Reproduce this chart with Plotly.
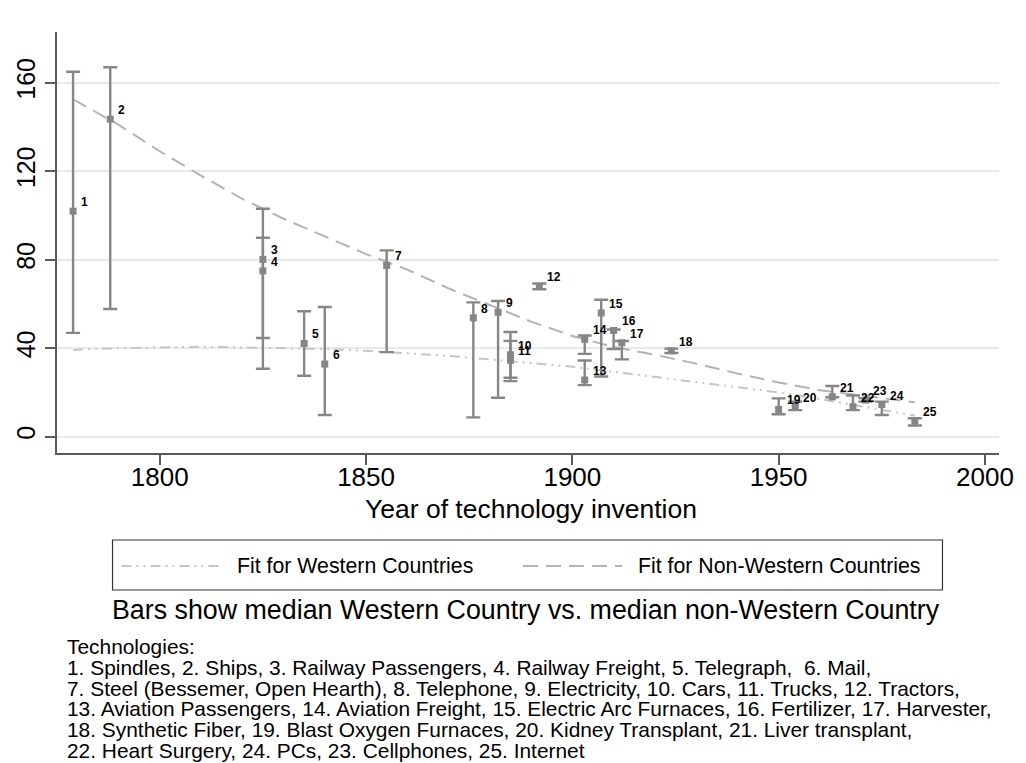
import plotly.graph_objects as go

# ---- data ----
tech_ids = [str(i) for i in range(1, 26)]
years = [1779, 1788, 1825, 1825, 1835, 1840, 1855, 1876, 1882, 1885, 1885, 1892,
         1903, 1903, 1907, 1910, 1912, 1924, 1950, 1954, 1963, 1968, 1971, 1975, 1983]
median_val = [101.9, 143.5, 80.1, 74.9, 42.1, 32.8, 77.4, 53.7, 56.2, 37.0, 34.5, 67.9,
              25.6, 44.0, 55.9, 48.0, 42.4, 38.8, 12.3, 13.5, 18.0, 13.5, 16.5, 14.5, 7.1]
bar_low = [46.9, 57.7, 44.6, 30.7, 27.5, 9.8, 38.2, 8.7, 17.6, 26.6, 25.1, 66.6,
           23.3, 37.4, 27.2, 39.6, 34.9, 37.8, 10.1, 12.0, 17.8, 12.0, 15.8, 9.8, 5.0]
bar_high = [164.9, 167.0, 103.0, 89.9, 56.7, 58.6, 84.2, 60.7, 61.3, 47.3, 43.3, 69.2,
            34.4, 45.7, 61.9, 48.4, 43.2, 39.8, 17.3, 15.8, 22.9, 18.6, 17.4, 15.8, 8.3]

fit_years = [1779, 1790, 1800, 1810, 1820, 1830, 1840, 1850, 1860, 1870, 1880,
             1890, 1900, 1910, 1920, 1930, 1940, 1950, 1960, 1970, 1983]
fit_western = [39.2, 40.0, 40.3, 40.6, 40.3, 40.0, 39.6, 38.8, 37.8, 36.5, 34.9,
               33.3, 31.6, 29.3, 27.0, 24.5, 22.2, 20.0, 17.0, 13.8, 9.5]
fit_nonwestern = [152.5, 141.0, 129.0, 118.0, 107.5, 98.5, 90.5, 82.5, 75.5, 67.0, 59.5,
                  52.0, 45.5, 40.5, 37.0, 33.0, 28.5, 24.5, 21.0, 18.5, 15.5]

y_ticks = [0, 40, 80, 120, 160]
x_ticks = [1800, 1850, 1900, 1950, 2000]

x_title = "Year of technology invention"
legend_labels = ["Fit for Western Countries", "Fit for Non-Western Countries"]
caption = "Bars show median Western Country vs. median non-Western Country"
note_lines = [
    "Technologies:",
    "1. Spindles, 2. Ships, 3. Railway Passengers, 4. Railway Freight, 5. Telegraph,  6. Mail,",
    "7. Steel (Bessemer, Open Hearth), 8. Telephone, 9. Electricity, 10. Cars, 11. Trucks, 12. Tractors,",
    "13. Aviation Passengers, 14. Aviation Freight, 15. Electric Arc Furnaces, 16. Fertilizer, 17. Harvester,",
    "18. Synthetic Fiber, 19. Blast Oxygen Furnaces, 20. Kidney Transplant, 21. Liver transplant,",
    "22. Heart Surgery, 24. PCs, 23. Cellphones, 25. Internet",
]

# ---- styling ----
FONT = "Liberation Sans, Arial, Helvetica, sans-serif"
BAR_COL = "#868686"
WEST_COL = "#c6c6c6"
NONWEST_COL = "#b3b3b3"
WEST_DASH = "10px,5px,2px,5px,2px,5px"
NONWEST_DASH = "15px,8px"
AXIS_COL = "#5a5a5a"

W, H = 1026, 763
L, R, T, B = 57, 19, 32, 310
pw, ph = W - L - R, H - T - B


def px(xp):
    return (xp - L) / pw


def py(yp):
    return (H - B - yp) / ph


fig = go.Figure()

fig.add_trace(go.Scatter(x=fit_years, y=fit_nonwestern, mode="lines",
                         line=dict(color=NONWEST_COL, width=2, dash=NONWEST_DASH),
                         name=legend_labels[1], showlegend=False, hoverinfo="skip"))
fig.add_trace(go.Scatter(x=fit_years, y=fit_western, mode="lines",
                         line=dict(color=WEST_COL, width=2, dash=WEST_DASH),
                         name=legend_labels[0], showlegend=False, hoverinfo="skip"))

err_plus = [h - m for h, m in zip(bar_high, median_val)]
err_minus = [m - l for m, l in zip(median_val, bar_low)]
fig.add_trace(go.Scatter(
    x=years, y=median_val, mode="markers",
    marker=dict(symbol="square", size=7, color=BAR_COL),
    error_y=dict(type="data", symmetric=False, array=err_plus, arrayminus=err_minus,
                 color=BAR_COL, thickness=2.4, width=7),
    showlegend=False, name="Technologies"))

annotations = []
for t, x, y in zip(tech_ids, years, median_val):
    annotations.append(dict(x=x, y=y, xref="x", yref="y", text=t, showarrow=False,
                            xanchor="left", yanchor="middle", xshift=6, yshift=9,
                            font=dict(family=FONT, size=12, color="black", weight="bold")))

# x-axis title
annotations.append(dict(x=px(535), y=py(509), xref="paper", yref="paper", text=x_title,
                        showarrow=False, xanchor="center", yanchor="middle",
                        font=dict(family=FONT, size=26.5, color="black")))

# manual legend
shapes = [
    dict(type="rect", xref="paper", yref="paper", x0=px(113), x1=px(950), y0=py(590), y1=py(540),
         line=dict(color="#333333", width=1.2), fillcolor="white", layer="above"),
    dict(type="line", xref="paper", yref="paper", x0=px(122), x1=px(222), y0=py(566), y1=py(566),
         line=dict(color=WEST_COL, width=2, dash=WEST_DASH)),
    dict(type="line", xref="paper", yref="paper", x0=px(527), x1=px(627), y0=py(566), y1=py(566),
         line=dict(color=NONWEST_COL, width=2, dash=NONWEST_DASH)),
]
annotations.append(dict(x=px(237), y=py(566), xref="paper", yref="paper", text=legend_labels[0],
                        showarrow=False, xanchor="left", yanchor="middle",
                        font=dict(family=FONT, size=21.3, color="black")))
annotations.append(dict(x=px(641), y=py(566), xref="paper", yref="paper", text=legend_labels[1],
                        showarrow=False, xanchor="left", yanchor="middle",
                        font=dict(family=FONT, size=21.3, color="black")))
annotations.append(dict(x=px(530), y=py(610), xref="paper", yref="paper", text=caption,
                        showarrow=False, xanchor="center", yanchor="middle",
                        font=dict(family=FONT, size=26.8, color="black")))
for i, line in enumerate(note_lines):
    annotations.append(dict(x=px(66), y=py(646.5 + 20.8 * i), xref="paper", yref="paper",
                            text=line, showarrow=False, xanchor="left", yanchor="middle",
                            borderpad=0,
                            font=dict(family=FONT, size=20.9, color="black")))

fig.update_layout(
    width=W, height=H,
    margin=dict(l=L, r=R, t=T, b=B),
    paper_bgcolor="white", plot_bgcolor="white",
    font=dict(family=FONT, color="black"),
    shapes=shapes, annotations=annotations,
    showlegend=False,
)
fig.update_xaxes(range=[1775.1, 2003.4], tickvals=x_ticks, ticks="outside", ticklen=10,
                 tickcolor=AXIS_COL, tickwidth=1.5, showline=True, linecolor=AXIS_COL, linewidth=1.5,
                 showgrid=False, zeroline=False, tickfont=dict(size=26, family=FONT),
                 ticklabelstandoff=-10)
fig.update_yaxes(range=[-7.4, 182.9], tickvals=y_ticks, ticks="outside", ticklen=10,
                 tickcolor=AXIS_COL, tickwidth=1.5, showline=True, linecolor=AXIS_COL, linewidth=1.5,
                 showgrid=True, gridcolor="#e8e8e8", gridwidth=1.5, zeroline=False,
                 tickangle=-90, tickfont=dict(size=25, family=FONT))

fig.write_html("out.html", config={"displayModeBar": False},
               post_script="document.body.style.margin='0px';")
